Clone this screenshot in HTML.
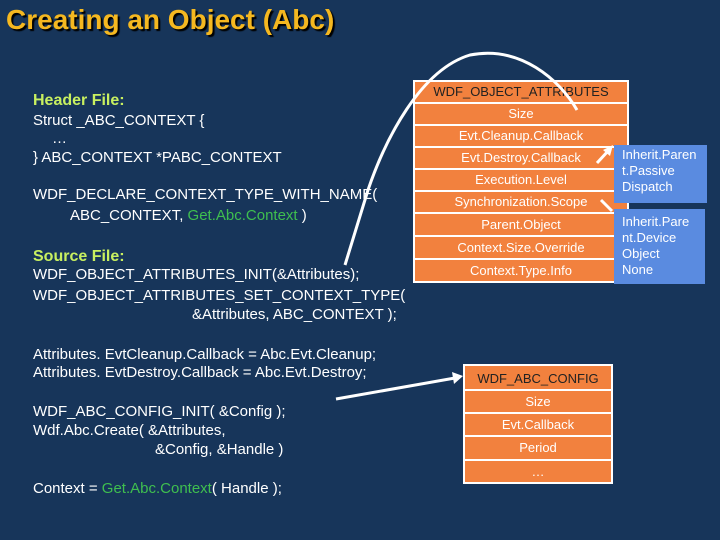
<!DOCTYPE html>
<html><head><style>
body{margin:0;width:720px;height:540px;background:#17355a;font-family:"Liberation Sans",Arial,sans-serif;position:relative;overflow:hidden}
.t{position:absolute;white-space:nowrap;color:#fff;font-size:15px;line-height:18px}
.g{color:#3fbf4f}
.h{color:#c8f060;font-weight:bold;font-size:16px}
.box{position:absolute;background:#fff}
.r{position:absolute;left:2px;right:2px;background:#f2813e;color:#fff;font-size:13px;text-align:center}
.blue{position:absolute;background:#5a8be0;color:#fff;font-size:13px;line-height:16px;padding:2px 0 0 8px;box-sizing:border-box}
</style></head><body>
<div class="t" style="left:6px;top:2px;font-size:28px;line-height:36px;font-weight:bold;color:#f5b820;text-shadow:2px 2px 1px #000">Creating an Object (Abc)</div>
<div class="t h" style="left:33px;top:92px">Header File:</div>
<div class="t" style="left:33px;top:112px">Struct _ABC_CONTEXT {</div>
<div class="t" style="left:52px;top:130px">…</div>
<div class="t" style="left:33px;top:149px">} ABC_CONTEXT *PABC_CONTEXT</div>
<div class="t" style="left:33px;top:186px">WDF_DECLARE_CONTEXT_TYPE_WITH_NAME(</div>
<div class="t" style="left:70px;top:207px">ABC_CONTEXT, <span class="g">Get.Abc.Context</span> )</div>
<div class="t h" style="left:33px;top:248px">Source File:</div>
<div class="t" style="left:33px;top:266px">WDF_OBJECT_ATTRIBUTES_INIT(&amp;Attributes);</div>
<div class="t" style="left:33px;top:287px">WDF_OBJECT_ATTRIBUTES_SET_CONTEXT_TYPE(</div>
<div class="t" style="left:192px;top:306px">&amp;Attributes, ABC_CONTEXT );</div>
<div class="t" style="left:33px;top:346px">Attributes. EvtCleanup.Callback = Abc.Evt.Cleanup;</div>
<div class="t" style="left:33px;top:364px">Attributes. EvtDestroy.Callback = Abc.Evt.Destroy;</div>
<div class="t" style="left:33px;top:403px">WDF_ABC_CONFIG_INIT( &amp;Config );</div>
<div class="t" style="left:33px;top:422px">Wdf.Abc.Create( &amp;Attributes,</div>
<div class="t" style="left:155px;top:441px">&amp;Config, &amp;Handle )</div>
<div class="t" style="left:33px;top:480px">Context = <span class="g">Get.Abc.Context</span>( Handle );</div>

<div class="box" style="left:413px;top:80px;width:216px;height:203px">
<div class="r" style="top:2px;height:20px;line-height:20px;color:#222">WDF_OBJECT_ATTRIBUTES</div>
<div class="r" style="top:24px;height:20px;line-height:20px">Size</div>
<div class="r" style="top:46px;height:20px;line-height:20px">Evt.Cleanup.Callback</div>
<div class="r" style="top:68px;height:20px;line-height:20px">Evt.Destroy.Callback</div>
<div class="r" style="top:90px;height:20px;line-height:20px">Execution.Level</div>
<div class="r" style="top:112px;height:20px;line-height:20px">Synchronization.Scope</div>
<div class="r" style="top:134px;height:21px;line-height:21px">Parent.Object</div>
<div class="r" style="top:157px;height:21px;line-height:21px">Context.Size.Override</div>
<div class="r" style="top:180px;height:21px;line-height:21px">Context.Type.Info</div>
</div>
<div class="box" style="left:463px;top:364px;width:150px;height:120px">
<div class="r" style="top:2px;height:23px;line-height:25px;color:#222">WDF_ABC_CONFIG</div>
<div class="r" style="top:27px;height:21px;line-height:21px">Size</div>
<div class="r" style="top:50px;height:21px;line-height:22px">Evt.Callback</div>
<div class="r" style="top:73px;height:22px;line-height:22px">Period</div>
<div class="r" style="top:97px;height:21px;line-height:21px">…</div>
</div>
<div class="blue" style="left:614px;top:145px;width:93px;height:58px">Inherit.Paren<br>t.Passive<br>Dispatch</div>
<div class="blue" style="left:614px;top:209px;width:91px;height:75px;padding-top:5px">Inherit.Pare<br>nt.Device<br>Object<br>None</div>

<svg width="720" height="540" style="position:absolute;left:0;top:0" fill="none" stroke="#fff" stroke-width="3">
<path d="M345 265 L368 190 C385 140 420 70 470 55 C520 45 560 80 577 110" />
<path d="M336 399 L455 378"/><polygon points="463,376 452,372 454,384" fill="#fff" stroke="none"/>
<path d="M597 163 L609 150"/><polygon points="613,145 603,150 610,156" fill="#fff" stroke="none"/>
<path d="M601 200 L612 211"/>
</svg>
</body></html>
